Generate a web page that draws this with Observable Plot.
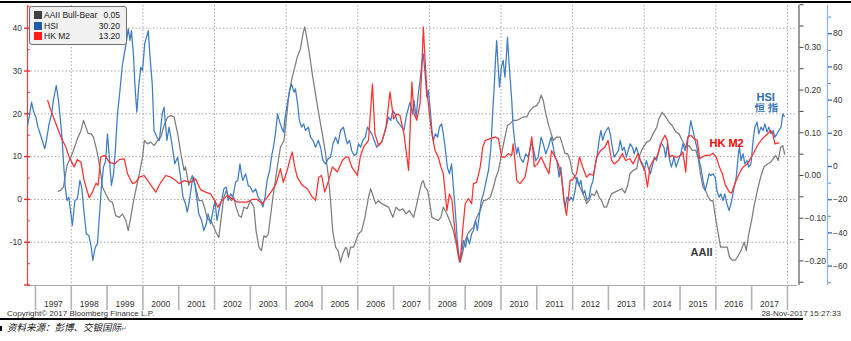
<!DOCTYPE html>
<html><head><meta charset="utf-8">
<script src="https://cdn.jsdelivr.net/npm/d3@7"></script>
<script src="https://cdn.jsdelivr.net/npm/@observablehq/plot@0.6"></script>
<style>
html,body{margin:0;padding:0;background:#fff;}
#wrap{position:relative;width:851px;height:341px;overflow:hidden;font-family:"Liberation Sans",Arial,sans-serif;color:#333;}
#wrap svg{position:absolute;left:0;top:0;}
.topline{position:absolute;left:0;top:1px;width:851px;height:2px;background:#000;}
.legend{position:absolute;left:29px;top:6px;width:96px;height:37px;background:#f1f1f1;border:1px solid #6e6e6e;border-radius:3px;font-size:8.5px;color:#1a1a1a;}
.legend .row{position:absolute;left:4px;right:6px;height:10px;line-height:10px;}
.legend .sw{position:absolute;left:0;top:1px;width:8px;height:8px;}
.legend .lab{position:absolute;left:10px;top:0;}
.legend .val{position:absolute;right:0;top:0;}
.copy{position:absolute;left:7px;top:309px;font-size:8px;color:#333;}
.stamp{position:absolute;right:10px;top:309px;font-size:8px;color:#333;}
.botline{position:absolute;left:0;top:318px;width:803px;height:2px;background:#000;}
.src{position:absolute;left:7px;top:320px;font-family:"Noto Sans CJK SC",sans-serif;font-style:italic;font-size:9.5px;color:#111;}
.bullet{position:absolute;left:0;top:326px;width:2px;height:5px;background:#000;}
.ret{font-size:7px;color:#777;font-style:normal;}
</style></head><body><div id="wrap"></div>
<script>
// ---------- data: [decimal year, value] ----------
const hkM2 = [[1997.34,23.1],[1997.43,20.8],[1997.57,17.7],[1997.71,14.6],[1997.85,12.2],[1997.94,9.9],[1998.08,7.6],[1998.17,9.3],[1998.27,8.7],[1998.36,4.4],[1998.50,0.4],[1998.59,1.7],[1998.69,3.8],[1998.75,3.3],[1998.82,9.9],[1998.94,10.3],[1999.06,8.7],[1999.20,8.3],[1999.34,9.3],[1999.48,9.5],[1999.57,6.0],[1999.71,3.7],[1999.80,4.0],[1999.90,5.2],[2000.03,5.6],[2000.17,4.0],[2000.36,1.7],[2000.50,4.0],[2000.64,5.6],[2000.78,5.2],[2000.92,4.4],[2001.01,3.7],[2001.15,4.4],[2001.33,4.0],[2001.47,4.8],[2001.61,2.3],[2001.75,1.7],[2001.89,1.3],[2002.03,-0.6],[2002.09,-1.8],[2002.21,-0.2],[2002.35,0.9],[2002.49,0.2],[2002.63,-0.6],[2002.77,-0.6],[2002.91,-0.6],[2003.05,0.0],[2003.19,0.0],[2003.33,-1.0],[2003.47,0.5],[2003.61,2.1],[2003.72,3.7],[2003.84,7.2],[2003.92,4.0],[2004.03,6.8],[2004.10,9.1],[2004.17,11.1],[2004.24,7.6],[2004.31,5.2],[2004.45,3.3],[2004.59,2.5],[2004.73,0.5],[2004.82,-0.2],[2004.91,5.2],[2004.99,5.6],[2005.08,1.7],[2005.17,4.0],[2005.29,7.6],[2005.43,6.4],[2005.57,9.1],[2005.66,9.9],[2005.74,9.9],[2005.83,7.6],[2005.99,5.6],[2006.07,9.9],[2006.16,12.2],[2006.30,13.8],[2006.41,27.0],[2006.48,15.3],[2006.58,12.6],[2006.67,13.4],[2006.79,16.9],[2006.90,25.1],[2007.00,18.8],[2007.09,20.0],[2007.18,19.6],[2007.29,15.3],[2007.42,6.8],[2007.51,27.4],[2007.57,20.0],[2007.65,18.5],[2007.74,22.4],[2007.79,30.9],[2007.83,40.3],[2007.88,32.5],[2007.93,25.5],[2008.00,20.0],[2008.07,15.3],[2008.16,11.4],[2008.25,9.9],[2008.32,7.6],[2008.39,6.0],[2008.49,-2.6],[2008.56,1.3],[2008.63,-0.2],[2008.72,-8.0],[2008.81,-12.7],[2008.86,-14.6],[2008.93,-7.2],[2009.00,-1.0],[2009.09,0.2],[2009.18,-1.0],[2009.23,3.7],[2009.32,4.0],[2009.42,7.6],[2009.49,12.2],[2009.56,13.8],[2009.70,14.2],[2009.84,14.6],[2009.93,14.2],[2010.02,9.9],[2010.11,9.9],[2010.20,10.7],[2010.30,10.3],[2010.34,13.0],[2010.39,9.1],[2010.44,4.4],[2010.53,3.7],[2010.67,5.2],[2010.76,9.1],[2010.86,14.6],[2010.93,7.6],[2011.02,8.3],[2011.12,9.9],[2011.23,7.9],[2011.34,6.0],[2011.41,11.4],[2011.51,9.9],[2011.60,8.3],[2011.69,5.2],[2011.77,-1.0],[2011.83,-3.7],[2011.93,4.4],[2012.02,4.8],[2012.11,6.0],[2012.19,9.9],[2012.28,7.6],[2012.39,5.2],[2012.48,6.0],[2012.58,5.6],[2012.67,9.9],[2012.78,11.4],[2012.90,12.2],[2012.99,13.8],[2013.09,9.1],[2013.16,8.3],[2013.28,9.1],[2013.39,10.7],[2013.48,9.1],[2013.60,9.5],[2013.69,8.3],[2013.82,10.7],[2013.93,8.3],[2014.02,6.8],[2014.09,2.9],[2014.16,7.6],[2014.25,9.1],[2014.35,9.9],[2014.47,13.0],[2014.50,13.8],[2014.58,15.0],[2014.64,13.8],[2014.71,9.9],[2014.78,10.3],[2014.86,9.9],[2014.93,9.9],[2015.02,10.3],[2015.08,11.1],[2015.16,6.4],[2015.22,14.6],[2015.30,15.0],[2015.39,14.2],[2015.48,13.8],[2015.55,9.5],[2015.62,9.9],[2015.71,10.3],[2015.83,10.3],[2015.92,10.8],[2016.01,9.9],[2016.10,7.6],[2016.18,6.0],[2016.27,3.3],[2016.38,1.7],[2016.44,1.5],[2016.55,4.0],[2016.65,6.0],[2016.76,7.6],[2016.88,8.3],[2017.02,10.3],[2017.16,12.6],[2017.30,14.2],[2017.44,15.3],[2017.53,16.1],[2017.59,15.3],[2017.65,13.0],[2017.76,13.2]];

const aaii = [[1997.63,-0.037],[1997.70,-0.035],[1997.78,-0.027],[1997.84,0.004],[1997.89,0.027],[1997.99,0.043],[1998.08,0.063],[1998.17,0.086],[1998.27,0.105],[1998.34,0.129],[1998.41,0.113],[1998.47,0.098],[1998.55,0.098],[1998.62,0.090],[1998.69,0.066],[1998.75,0.043],[1998.81,0.012],[1998.87,-0.027],[1998.96,-0.043],[1999.06,-0.059],[1999.15,-0.063],[1999.24,-0.094],[1999.34,-0.098],[1999.43,-0.090],[1999.52,-0.105],[1999.59,-0.129],[1999.66,-0.098],[1999.74,-0.059],[1999.80,-0.035],[1999.90,0.004],[1999.99,0.043],[2000.04,0.082],[2000.13,0.074],[2000.22,0.078],[2000.31,0.070],[2000.41,0.082],[2000.50,0.090],[2000.59,0.117],[2000.69,0.137],[2000.78,0.140],[2000.87,0.137],[2000.97,0.098],[2001.06,0.051],[2001.15,0.012],[2001.19,0.020],[2001.28,-0.023],[2001.38,0.000],[2001.47,-0.027],[2001.56,-0.059],[2001.66,-0.059],[2001.73,-0.078],[2001.80,-0.102],[2001.89,-0.105],[2001.98,-0.121],[2002.06,-0.137],[2002.12,-0.145],[2002.20,-0.090],[2002.26,-0.051],[2002.33,-0.035],[2002.40,-0.051],[2002.47,-0.059],[2002.54,-0.051],[2002.60,-0.074],[2002.68,-0.094],[2002.75,-0.098],[2002.82,-0.074],[2002.91,-0.078],[2003.00,-0.059],[2003.10,-0.074],[2003.16,-0.129],[2003.24,-0.168],[2003.31,-0.176],[2003.38,-0.141],[2003.44,-0.145],[2003.50,-0.137],[2003.56,-0.098],[2003.63,-0.051],[2003.70,-0.012],[2003.78,0.035],[2003.84,0.066],[2003.94,0.082],[2003.98,0.113],[2004.08,0.191],[2004.15,0.223],[2004.22,0.246],[2004.31,0.277],[2004.40,0.297],[2004.47,0.332],[2004.52,0.348],[2004.59,0.316],[2004.65,0.285],[2004.73,0.238],[2004.82,0.191],[2004.91,0.145],[2005.01,0.098],[2005.10,0.051],[2005.17,0.004],[2005.24,-0.059],[2005.30,-0.129],[2005.38,-0.168],[2005.45,-0.176],[2005.52,-0.203],[2005.58,-0.184],[2005.66,-0.168],[2005.70,-0.172],[2005.74,-0.191],[2005.80,-0.168],[2005.88,-0.168],[2005.95,-0.152],[2006.02,-0.137],[2006.11,-0.129],[2006.20,-0.098],[2006.30,-0.051],[2006.36,-0.031],[2006.44,-0.051],[2006.50,-0.066],[2006.58,-0.059],[2006.67,-0.066],[2006.76,-0.070],[2006.86,-0.074],[2006.98,-0.098],[2007.07,-0.074],[2007.16,-0.082],[2007.26,-0.078],[2007.35,-0.090],[2007.44,-0.082],[2007.56,-0.098],[2007.65,-0.066],[2007.72,-0.039],[2007.79,-0.016],[2007.83,-0.012],[2007.88,-0.027],[2007.95,-0.035],[2008.00,-0.059],[2008.07,-0.098],[2008.16,-0.102],[2008.25,-0.105],[2008.32,-0.098],[2008.39,-0.074],[2008.49,-0.090],[2008.58,-0.109],[2008.67,-0.129],[2008.75,-0.160],[2008.81,-0.191],[2008.86,-0.203],[2008.92,-0.184],[2009.00,-0.152],[2009.07,-0.137],[2009.14,-0.129],[2009.23,-0.121],[2009.32,-0.098],[2009.42,-0.082],[2009.51,-0.059],[2009.60,-0.057],[2009.70,-0.051],[2009.79,-0.027],[2009.86,-0.004],[2009.93,0.012],[2010.00,0.043],[2010.07,0.074],[2010.11,0.090],[2010.18,0.117],[2010.25,0.121],[2010.34,0.129],[2010.44,0.129],[2010.53,0.133],[2010.62,0.137],[2010.72,0.137],[2010.81,0.152],[2010.90,0.160],[2011.00,0.164],[2011.06,0.172],[2011.12,0.188],[2011.18,0.176],[2011.25,0.145],[2011.32,0.121],[2011.40,0.098],[2011.46,0.082],[2011.55,0.090],[2011.65,0.090],[2011.71,0.074],[2011.79,0.051],[2011.86,0.051],[2011.93,0.035],[2011.99,0.008],[2012.07,-0.004],[2012.16,-0.020],[2012.25,-0.035],[2012.33,-0.051],[2012.39,-0.066],[2012.46,-0.059],[2012.53,-0.043],[2012.61,-0.047],[2012.67,-0.035],[2012.74,-0.051],[2012.81,-0.059],[2012.88,-0.074],[2012.95,-0.074],[2013.01,-0.059],[2013.09,-0.043],[2013.18,-0.039],[2013.28,-0.035],[2013.37,-0.031],[2013.46,-0.041],[2013.54,-0.023],[2013.60,0.004],[2013.69,0.012],[2013.79,0.016],[2013.85,0.043],[2013.93,0.059],[2014.00,0.070],[2014.07,0.078],[2014.16,0.082],[2014.25,0.098],[2014.35,0.113],[2014.41,0.133],[2014.50,0.148],[2014.60,0.137],[2014.69,0.125],[2014.78,0.117],[2014.88,0.102],[2014.97,0.098],[2015.06,0.082],[2015.16,0.066],[2015.25,0.070],[2015.34,0.059],[2015.44,0.059],[2015.51,0.039],[2015.57,0.004],[2015.64,-0.027],[2015.71,-0.035],[2015.79,-0.051],[2015.85,-0.059],[2015.92,-0.059],[2015.99,-0.098],[2016.07,-0.137],[2016.13,-0.168],[2016.23,-0.168],[2016.32,-0.168],[2016.38,-0.191],[2016.46,-0.198],[2016.55,-0.198],[2016.65,-0.184],[2016.72,-0.172],[2016.79,-0.156],[2016.85,-0.176],[2016.92,-0.137],[2017.00,-0.105],[2017.06,-0.074],[2017.16,-0.035],[2017.25,-0.004],[2017.34,0.020],[2017.44,0.027],[2017.53,0.031],[2017.60,0.039],[2017.67,0.047],[2017.74,0.035],[2017.81,0.066],[2017.87,0.070],[2017.92,0.050]];

const hsi = [[1996.78,24.7],[1996.83,30.7],[1996.89,38.8],[1996.94,33.7],[1997.01,29.7],[1997.07,23.7],[1997.13,19.7],[1997.19,15.7],[1997.26,10.6],[1997.32,17.7],[1997.38,25.7],[1997.45,31.7],[1997.50,39.8],[1997.58,48.8],[1997.63,41.8],[1997.68,31.7],[1997.74,17.7],[1997.78,3.6],[1997.83,-12.4],[1997.88,-20.5],[1997.93,-18.5],[1997.99,-28.5],[1998.03,-35.5],[1998.10,-20.5],[1998.17,-19.5],[1998.24,-8.4],[1998.29,-12.4],[1998.36,-28.5],[1998.42,-40.6],[1998.49,-41.6],[1998.55,-47.6],[1998.60,-56.6],[1998.67,-48.6],[1998.73,-46.6],[1998.79,-28.5],[1998.84,-12.4],[1998.90,-0.4],[1998.96,3.6],[1999.01,19.7],[1999.07,3.6],[1999.12,-11.4],[1999.18,-4.4],[1999.23,9.6],[1999.29,31.7],[1999.35,43.8],[1999.42,59.8],[1999.48,67.9],[1999.53,73.9],[1999.59,82.9],[1999.64,75.9],[1999.68,81.9],[1999.74,65.9],[1999.78,47.8],[1999.83,32.7],[1999.88,47.8],[1999.94,59.8],[1999.99,57.8],[2000.05,73.9],[2000.15,81.9],[2000.20,65.9],[2000.26,49.8],[2000.31,21.7],[2000.39,17.7],[2000.46,15.7],[2000.54,31.7],[2000.59,35.7],[2000.67,15.7],[2000.73,23.7],[2000.81,13.7],[2000.89,1.6],[2000.97,5.6],[2001.04,-4.4],[2001.12,-18.5],[2001.19,-22.5],[2001.24,-27.5],[2001.30,-20.5],[2001.38,-8.4],[2001.42,-6.4],[2001.49,-16.5],[2001.56,-28.5],[2001.64,-32.5],[2001.70,-38.6],[2001.77,-34.5],[2001.82,-28.5],[2001.89,-34.5],[2001.94,-28.5],[2002.01,-20.5],[2002.07,-32.5],[2002.14,-24.5],[2002.20,-20.5],[2002.26,-13.5],[2002.33,-12.4],[2002.38,-20.5],[2002.45,-16.5],[2002.51,-18.5],[2002.59,-9.4],[2002.65,-8.4],[2002.71,1.6],[2002.75,-4.4],[2002.79,-8.4],[2002.87,-4.4],[2002.94,-11.4],[2003.00,-12.4],[2003.07,-15.5],[2003.15,-13.5],[2003.22,-18.5],[2003.29,-20.5],[2003.35,-24.5],[2003.41,-18.5],[2003.47,-8.4],[2003.54,-2.4],[2003.59,5.6],[2003.66,13.7],[2003.70,19.7],[2003.76,31.7],[2003.82,26.7],[2003.87,23.7],[2003.93,20.7],[2003.96,27.7],[2004.03,37.8],[2004.10,45.8],[2004.15,49.8],[2004.22,44.8],[2004.26,46.8],[2004.32,37.8],[2004.37,27.7],[2004.43,23.7],[2004.49,25.7],[2004.54,21.7],[2004.62,23.7],[2004.68,17.7],[2004.75,15.7],[2004.82,11.6],[2004.90,15.7],[2004.96,11.6],[2005.03,3.6],[2005.10,1.6],[2005.17,4.6],[2005.24,5.6],[2005.31,13.7],[2005.38,17.7],[2005.45,13.7],[2005.52,21.7],[2005.60,23.7],[2005.66,17.7],[2005.71,13.7],[2005.77,15.7],[2005.83,9.6],[2005.90,6.6],[2005.97,7.6],[2006.02,13.7],[2006.08,11.6],[2006.14,15.7],[2006.21,17.7],[2006.27,23.7],[2006.33,21.7],[2006.39,19.7],[2006.46,15.7],[2006.53,11.6],[2006.61,13.7],[2006.67,14.7],[2006.74,19.7],[2006.79,23.7],[2006.86,29.7],[2006.92,27.7],[2006.98,33.7],[2007.04,31.7],[2007.09,27.7],[2007.16,25.7],[2007.23,23.7],[2007.29,21.7],[2007.35,29.7],[2007.42,35.7],[2007.46,38.8],[2007.53,31.7],[2007.57,39.8],[2007.63,29.7],[2007.69,43.8],[2007.74,51.8],[2007.80,63.9],[2007.83,67.9],[2007.88,55.8],[2007.93,41.8],[2007.97,45.8],[2008.02,35.7],[2008.07,21.7],[2008.11,15.7],[2008.17,19.7],[2008.23,17.7],[2008.28,23.7],[2008.34,25.7],[2008.39,19.7],[2008.45,9.6],[2008.50,-0.4],[2008.56,-4.4],[2008.62,1.6],[2008.67,-12.4],[2008.73,-28.5],[2008.78,-44.6],[2008.84,-57.6],[2008.90,-52.6],[2008.95,-44.6],[2009.01,-48.6],[2009.06,-42.6],[2009.12,-46.6],[2009.18,-40.6],[2009.23,-38.6],[2009.29,-32.5],[2009.34,-38.6],[2009.40,-28.5],[2009.45,-20.5],[2009.51,-16.5],[2009.59,-8.4],[2009.65,-2.4],[2009.72,11.6],[2009.77,33.7],[2009.81,47.8],[2009.85,65.9],[2009.88,75.9],[2009.92,59.8],[2009.96,47.8],[2010.01,59.8],[2010.06,63.9],[2010.11,53.8],[2010.16,69.9],[2010.18,77.9],[2010.22,63.9],[2010.26,51.8],[2010.30,39.8],[2010.34,23.7],[2010.39,13.7],[2010.44,7.6],[2010.48,11.6],[2010.53,5.6],[2010.58,3.6],[2010.62,2.6],[2010.69,7.6],[2010.76,5.6],[2010.84,13.7],[2010.90,11.6],[2010.97,3.6],[2011.04,5.6],[2011.12,17.7],[2011.18,13.7],[2011.25,7.6],[2011.32,11.6],[2011.40,17.7],[2011.46,11.6],[2011.51,5.6],[2011.56,3.6],[2011.62,-6.4],[2011.67,-0.4],[2011.74,-16.5],[2011.79,-24.5],[2011.84,-18.5],[2011.90,-20.5],[2011.95,-18.5],[2012.01,-20.5],[2012.07,-14.5],[2012.12,-6.4],[2012.18,-11.4],[2012.23,-8.4],[2012.29,-16.5],[2012.34,-14.5],[2012.40,-20.5],[2012.46,-18.5],[2012.51,-12.4],[2012.57,-8.4],[2012.62,-0.4],[2012.68,5.6],[2012.74,15.7],[2012.79,21.7],[2012.84,15.7],[2012.89,19.7],[2012.94,21.7],[2013.00,23.7],[2013.05,19.7],[2013.11,11.6],[2013.16,5.6],[2013.22,7.6],[2013.28,9.6],[2013.33,15.7],[2013.39,9.6],[2013.44,11.6],[2013.50,5.6],[2013.55,9.6],[2013.61,13.7],[2013.67,11.6],[2013.72,7.6],[2013.78,11.6],[2013.84,7.6],[2013.89,3.6],[2013.95,1.6],[2014.00,-2.4],[2014.06,3.6],[2014.11,-0.4],[2014.17,-4.4],[2014.22,-0.4],[2014.28,5.6],[2014.34,3.6],[2014.39,7.6],[2014.45,13.7],[2014.49,13.7],[2014.55,11.6],[2014.60,5.6],[2014.65,13.7],[2014.71,3.6],[2014.76,-0.4],[2014.83,5.6],[2014.89,-0.4],[2014.95,3.6],[2015.02,7.6],[2015.08,13.7],[2015.14,9.6],[2015.20,15.7],[2015.25,19.7],[2015.30,27.7],[2015.36,21.7],[2015.42,15.7],[2015.47,11.6],[2015.53,3.6],[2015.58,-0.4],[2015.64,-8.4],[2015.70,-14.5],[2015.75,-10.4],[2015.81,-4.4],[2015.86,-5.4],[2015.92,-4.4],[2015.98,-6.4],[2016.03,-14.5],[2016.09,-18.5],[2016.14,-16.5],[2016.20,-20.5],[2016.25,-16.5],[2016.31,-22.5],[2016.37,-26.5],[2016.42,-22.5],[2016.46,-18.5],[2016.51,-12.4],[2016.57,-6.4],[2016.63,7.6],[2016.66,11.6],[2016.70,3.6],[2016.76,7.6],[2016.81,1.6],[2016.87,3.6],[2016.92,-0.4],[2016.98,1.6],[2017.04,15.7],[2017.09,23.7],[2017.15,26.7],[2017.20,19.7],[2017.26,23.7],[2017.32,21.7],[2017.37,25.7],[2017.43,20.7],[2017.48,23.7],[2017.54,19.7],[2017.60,21.7],[2017.65,17.7],[2017.71,19.7],[2017.76,21.7],[2017.82,23.7],[2017.87,31.7],[2017.91,30.2]];

// ---------- ticks & labels ----------
const yearSeparators = d3.range(1997, 2019);
const yearLabels = d3.range(1997, 2018);
const gridYears = d3.range(1998, 2019, 2);
const m2Ticks = [-10, 0, 10, 20, 30, 40];
const m2Minor = [-15, -5, 5, 15, 25, 35, 45];
const aaiiTicks = [-0.2, -0.1, 0, 0.1, 0.2, 0.3];
const aaiiMinor = [-0.25, -0.15, -0.05, 0.05, 0.15, 0.25, 0.35, 0.4];
const hsiTicks = [-60, -40, -20, 0, 20, 40, 60, 80];
const hsiMinor = [-70, -50, -30, -10, 10, 30, 50, 70, 90];
const seriesNames = ["AAII Bull-Bear", "HSI", "HK M2"];
const seriesColors = ["#404040", "#1d5ca8", "#ff1a1a"];
const lineColors = {aaii: "#7d7d7d", hsi: "#3d7cc6", m2: "#ff3030"};
const annotations = {
  hsi: [{x: 2017.39, y: 41.5, t: "HSI", size: 11}, {x: 2017.42, y: 35.0, t: "恒 指", size: 9.5}],
  m2: [{x: 2016.30, y: 13.1, t: "HK M2", size: 11}],
  aaii: [{x: 2015.60, y: -0.180, t: "AAII", size: 11}]
};

// ---------- scales / layout ----------
const xDomain = [1996.777, 2018.28];
const m2Domain = [-20.1, 45.3];
const aaiiDomain = [-0.2576, 0.398];
const hsiDomain = [-71.7, 97.0];

const common = {
  width: 851, height: 312,
  marginTop: 5, marginRight: 54, marginBottom: 27, marginLeft: 27,
  x: {type: "linear", domain: xDomain, axis: null},
  style: {background: "transparent", fontFamily: "Liberation Sans, Arial, sans-serif", fontSize: "8.5px", color: "#333", overflow: "visible"}
};
const X = d => d[0], Y = d => d[1];
const lineOpts = (c) => ({x: X, y: Y, stroke: c, strokeWidth: 1.25, strokeLinejoin: "round"});
const annText = (arr, color) => Plot.text(arr, {x: "x", y: "y", text: "t", fill: color, fontWeight: "bold", fontSize: d => d.size, textAnchor: "middle"});

const wrap = document.getElementById("wrap");

// base: grid, x axis, left (HK M2) axis
const basePlot = Plot.plot({
  ...common,
  y: {domain: m2Domain, axis: null},
  marks: [
    Plot.gridY(m2Ticks, {stroke: "#9c9c9c", strokeOpacity: 1, strokeDasharray: "1.3,2.2"}),
    Plot.gridX(gridYears, {stroke: "#9c9c9c", strokeOpacity: 1, strokeDasharray: "1.3,2.2"}),
    Plot.ruleY([m2Domain[0]], {stroke: "#a8a8a8", strokeWidth: 1.2}),
    Plot.axisX(yearSeparators, {tickSize: 25, tickFormat: () => "", label: null, stroke: "#b4b4b4", strokeWidth: 1.6}),
    Plot.axisX(yearLabels.map(y => y + 0.5), {tickSize: 0, tickPadding: 15, tickFormat: d => String(Math.floor(d)), label: null, fill: "#333", fontSize: 8.5}),
    Plot.ruleX([xDomain[0]], {stroke: "#ff3b3b", strokeWidth: 1.2}),
    Plot.axisY(m2Minor, {anchor: "left", tickSize: 3, dx: 3, tickFormat: () => "", label: null, stroke: "#ff3b3b"}),
    Plot.axisY(m2Ticks.concat([-20]), {anchor: "left", tickSize: 6, dx: 3, tickPadding: 2.5, label: null, stroke: "#ff2020", strokeWidth: 1.3, fill: "#333", fontSize: 8.5, tickFormat: d => d === -20 ? "" : String(d)})
  ]
});
wrap.appendChild(basePlot);

// AAII (middle axis)
const aaiiPlot = Plot.plot({
  ...common,
  y: {domain: aaiiDomain, axis: null},
  marks: [
    Plot.ruleX([xDomain[1]], {dx: 1.5, stroke: "#5a5a5a", strokeWidth: 1.2}),
    Plot.axisY(aaiiMinor, {anchor: "right", tickSize: 4, dx: 1.5, tickFormat: () => "", label: null, stroke: "#444"}),
    Plot.axisY(aaiiTicks, {anchor: "right", tickSize: 4, dx: 1.5, tickPadding: 1.5, label: null, stroke: "#444", fill: "#333", fontSize: 8.5, tickFormat: d3.format(".2f")}),
    Plot.line(aaii, lineOpts(lineColors.aaii)),
    annText(annotations.aaii, "#3a3a3a")
  ]
});
wrap.appendChild(aaiiPlot);

// HSI (right axis)
const hsiPlot = Plot.plot({
  ...common,
  y: {domain: hsiDomain, axis: null},
  marks: [
    Plot.ruleX([xDomain[1]], {dx: 30, stroke: "#8db5e2", strokeWidth: 1.2}),
    Plot.axisY(hsiMinor, {anchor: "right", tickSize: 3, dx: 30, tickFormat: () => "", label: null, stroke: "#5b8fd0"}),
    Plot.axisY(hsiTicks, {anchor: "right", tickSize: 4, dx: 30, tickPadding: 1.5, label: null, stroke: "#2f6cc0", strokeWidth: 1.3, fill: "#333", fontSize: 8.5}),
    Plot.line(hsi, lineOpts(lineColors.hsi)),
    annText(annotations.hsi, "#2f6cb5")
  ]
});
wrap.appendChild(hsiPlot);

// HK M2 line on top (left axis scale)
const m2Plot = Plot.plot({
  ...common,
  y: {domain: m2Domain, axis: null},
  marks: [
    Plot.line(hkM2, lineOpts(lineColors.m2)),
    annText(annotations.m2, "#ff0000")
  ]
});
wrap.appendChild(m2Plot);

// ---------- legend & furniture ----------
const lastVals = [aaii, hsi, hkM2].map(s => s[s.length - 1][1].toFixed(2));
function addDiv(cls, html) { const d = document.createElement("div"); d.className = cls; if (html) d.innerHTML = html; wrap.appendChild(d); return d; }
addDiv("topline");
const lg = addDiv("legend");
seriesNames.forEach((n, i) => {
  const r = document.createElement("div"); r.className = "row"; r.style.top = (3 + i * 10.5) + "px";
  r.innerHTML = `<span class="sw" style="background:${seriesColors[i]}"></span><span class="lab">${n}</span><span class="val">${lastVals[i]}</span>`;
  lg.appendChild(r);
});
addDiv("copy", "Copyright© 2017 Bloomberg Finance L.P.");
addDiv("stamp", "28-Nov-2017 15:27:33");
addDiv("botline");
addDiv("bullet");
addDiv("src", '资料来源：彭博、交银国际<span class="ret">↵</span>');
</script></body></html>
